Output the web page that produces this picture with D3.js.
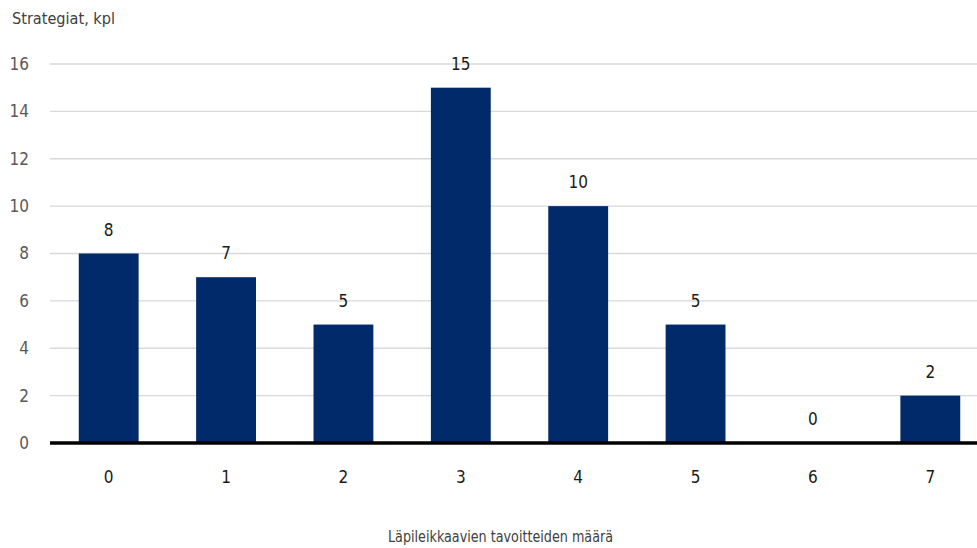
<!DOCTYPE html>
<html><head><meta charset="utf-8">
<script src="https://cdn.jsdelivr.net/npm/d3@7"></script>
<style>
body{margin:0;background:#fff;}
text{font-family:"Liberation Sans Narrow","Arial Narrow","DejaVu Sans Condensed",sans-serif;}
</style></head>
<body><svg id="c" width="977" height="548"></svg>
<script>
const categories = ["0","1","2","3","4","5","6","7"];
const values = [8,7,5,15,10,5,0,2];
const yTicks = [0,2,4,6,8,10,12,14,16];
const yTitle = "Strategiat, kpl";
const xTitle = "Läpileikkaavien tavoitteiden määrä";

const svg = d3.select("#c");
const mLeft = 50, mRight = 989, mTop = 64, mBottom = 443;
const x = d3.scaleBand().domain(categories).range([mLeft, mRight]).paddingInner(0.49).paddingOuter(0.245);
const y = d3.scaleLinear().domain([0,16]).range([mBottom, mTop]);

svg.append("g").selectAll("line").data(yTicks.filter(d=>d>0)).join("line")
  .attr("x1", mLeft).attr("x2", 977).attr("y1", d=>y(d)).attr("y2", d=>y(d))
  .attr("stroke", "#d9d9d9").attr("stroke-width", 1.3);

svg.append("g").selectAll("text").data(yTicks).join("text")
  .attr("x", 29).attr("y", d=>y(d)).attr("dy","0.35em").attr("text-anchor","end")
  .attr("font-size", 17).attr("fill", "#595959").text(d=>d);

svg.append("g").selectAll("rect").data(values).join("rect")
  .attr("x", (d,i)=>x(categories[i])).attr("width", x.bandwidth())
  .attr("y", d=>y(d)).attr("height", d=>mBottom - y(d)).attr("fill", "#002a6a");

svg.append("g").selectAll("text").data(values).join("text")
  .attr("x", (d,i)=>x(categories[i]) + x.bandwidth()/2).attr("y", d=>y(d) - 18)
  .attr("text-anchor","middle").attr("font-size", 17).attr("fill", "#1a1a1a").text(d=>d);

svg.append("line").attr("x1", mLeft).attr("x2", 977).attr("y1", mBottom).attr("y2", mBottom)
  .attr("stroke", "#000").attr("stroke-width", 3.5);

svg.append("g").selectAll("text").data(categories).join("text")
  .attr("x", d=>x(d) + x.bandwidth()/2).attr("y", 483)
  .attr("text-anchor","middle").attr("font-size", 17).attr("fill", "#1a1a1a").text(d=>d);

svg.append("text").attr("x", 12).attr("y", 24).attr("font-size", 16).attr("fill", "#404040")
  .attr("textLength", 103).attr("lengthAdjust", "spacingAndGlyphs").text(yTitle);
svg.append("text").attr("x", 388).attr("y", 542).attr("font-size", 16).attr("fill", "#404040")
  .attr("textLength", 225).attr("lengthAdjust", "spacingAndGlyphs").text(xTitle);
</script></body></html>
